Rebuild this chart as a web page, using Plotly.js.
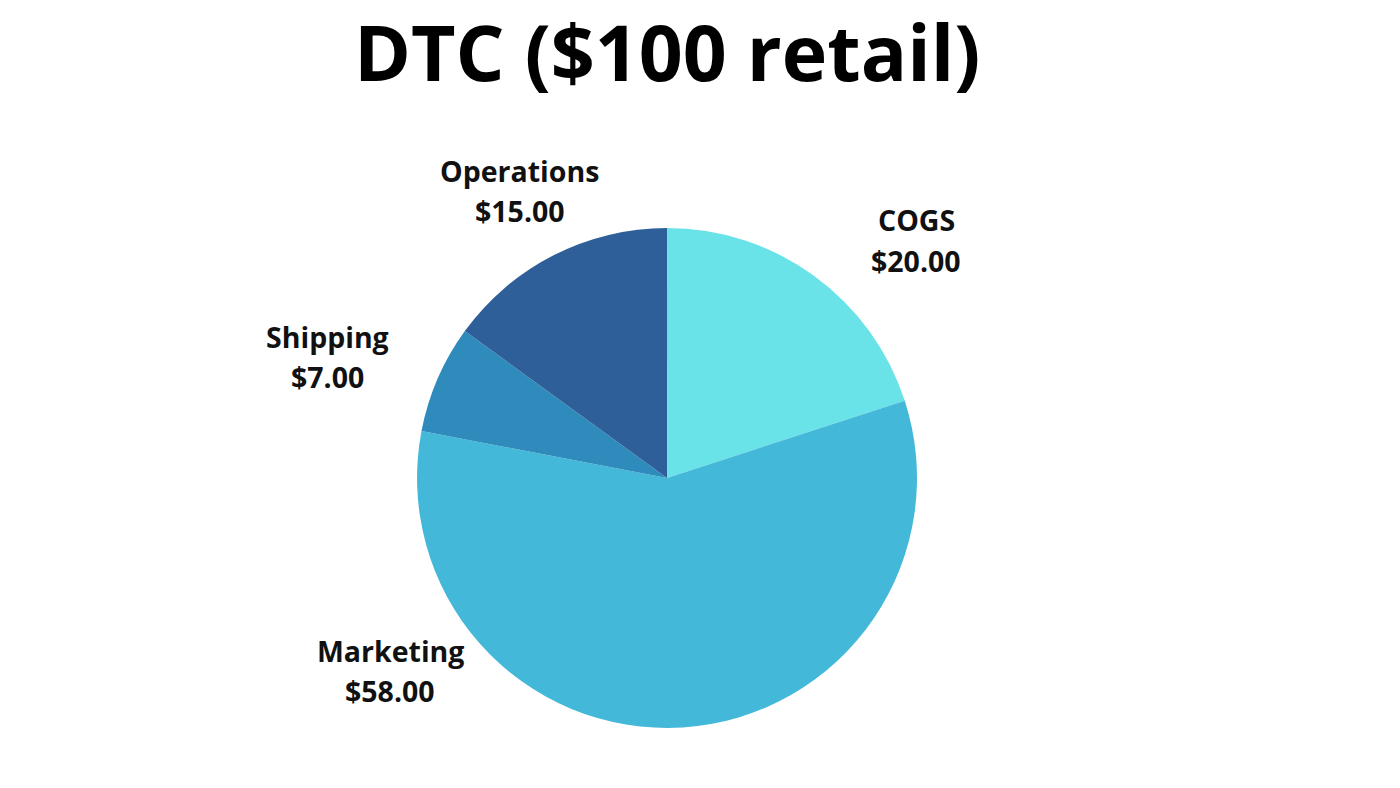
<!DOCTYPE html>
<html>
<head>
<meta charset="utf-8">
<script src="https://cdn.plot.ly/plotly-3.0.1.min.js"></script>
<style>html,body{margin:0;padding:0;background:#fff;}#chart{width:1400px;height:788px;}</style>
</head>
<body>
<div id="chart"></div>
<script>
const categories = ["COGS", "Marketing", "Shipping", "Operations"];
const values = [20, 58, 7, 15];
const colors = ["#6ae3e8", "#43b8d8", "#2e8bbb", "#2e5f98"];
const titleText = "DTC ($100 retail)";
// label anchor positions (paper coords) for the name line and value line
const labelX = [0.6543, 0.2786, 0.2336, 0.3714];
const nameY = [0.7208, 0.1739, 0.5723, 0.7830];
const valueY = [0.6688, 0.1231, 0.5216, 0.7322];

const FONT = "Open Sans, Liberation Sans, sans-serif";

const trace = {
  type: "pie",
  labels: categories,
  values: values,
  marker: { colors: colors, line: { width: 0 } },
  sort: false,
  direction: "clockwise",
  rotation: 0,
  textinfo: "none",
  hoverinfo: "label+value",
  showlegend: false,
  domain: { x: [0.2979, 0.655], y: [0.0762, 0.7107] }
};

const annotations = [];
categories.forEach((c, i) => {
  annotations.push({
    text: "<b>" + c + "</b>",
    x: labelX[i], y: nameY[i], xref: "paper", yref: "paper",
    xanchor: "center", yanchor: "middle", showarrow: false,
    font: { family: FONT, size: 28.5, color: "#111111" }
  });
  annotations.push({
    text: "<b>$" + values[i].toFixed(2) + "</b>",
    x: labelX[i], y: valueY[i], xref: "paper", yref: "paper",
    xanchor: "center", yanchor: "middle", showarrow: false,
    font: { family: FONT, size: 28.5, color: "#111111" }
  });
});
annotations.push({
  text: "<b>" + titleText + "</b>",
  x: 0.4764, y: 0.9345, xref: "paper", yref: "paper",
  xanchor: "center", yanchor: "middle", showarrow: false,
  font: { family: FONT, size: 77, color: "#000000" }
});

const layout = {
  width: 1400, height: 788,
  margin: { l: 0, r: 0, t: 0, b: 0 },
  paper_bgcolor: "#ffffff",
  plot_bgcolor: "#ffffff",
  annotations: annotations
};

Plotly.newPlot("chart", [trace], layout, { displayModeBar: false, staticPlot: true });
</script>
</body>
</html>
